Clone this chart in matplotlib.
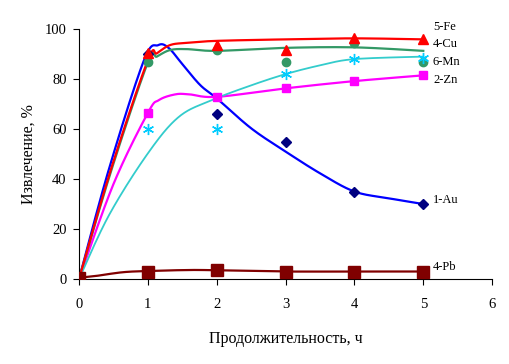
import numpy as np
import matplotlib
matplotlib.use('Agg')
import matplotlib.pyplot as plt

plt.rcParams['font.family'] = ['Liberation Serif', 'DejaVu Serif']

## Данные
t = [0, 1, 2, 3, 4, 5]

# точки (маркеры)
au_pts = [0, 90, 66, 55, 35, 30]
fe_pts = [0, 90.5, 93.5, 91.5, 96.5, 96]
cu_pts = [0, 87, 91.5, 87, 94.5, 87]
mn_pts = [0, 60, 60, 82, 88, 88.5]
zn_pts = [0, 66.5, 72.7, 76.3, 79.2, 81.5]
pb_pts = [0.5, 3, 3.5, 3, 3, 3]

# сглаженные кривые (узлы)
au_cx = [0, 0.43, 0.944, 1.15, 1.3, 1.5, 1.76, 2, 2.5, 3, 3.5, 4, 4.5, 5]
au_cy = [0, 43.6, 87.6, 93.6, 92.5, 86, 77.6, 72.3, 60.3, 51, 42.3, 35, 32.3, 30]
fe_cx = [0, 0.46, 1.0, 1.13, 1.32, 1.56, 2, 3, 4, 5]
fe_cy = [0, 43.6, 87.6, 90.3, 93.6, 94.5, 95.3, 95.9, 96.3, 95.9]
cu_cx = [0, 0.47, 1.0, 1.13, 1.32, 1.56, 2, 3, 4, 5]
cu_cy = [0, 43.6, 86.7, 89, 91.6, 92, 91.3, 92.5, 92.7, 91.3]
mn_cx = [0, 0.436, 1.0, 1.45, 1.93, 2.5, 3, 3.5, 4, 5]
mn_cy = [0, 25.6, 50.3, 64.9, 71.6, 77.5, 82, 85.5, 88, 89]
zn_cx = [0, 0.5, 1.0, 1.16, 1.4, 1.6, 2, 3, 4, 5]
zn_cy = [0, 38, 66.5, 71.6, 73.9, 73.9, 72.9, 76.3, 79.2, 81.5]
pb_cx = [0, 0.24, 0.63, 1, 1.6, 2, 3, 4, 5]
pb_cy = [0.5, 1.2, 2.7, 3.2, 3.6, 3.5, 3, 3, 3]

labels = ['5-Fe', '4-Cu', '6-Mn', '2-Zn', '1-Au', '4-Pb']
label_y = [101, 94, 87, 79.6, 31.6, 4.8]


# сглаживание (Catmull-Rom в пиксельном масштабе)
def smooth(x, y, sx=68.8, sy=2.5, n=30):
    P = np.column_stack([np.asarray(x, float) * sx, np.asarray(y, float) * sy])
    P = np.vstack([P[0], P, P[-1]])
    out = []
    for i in range(1, len(P) - 2):
        p0, p1, p2, p3 = P[i - 1], P[i], P[i + 1], P[i + 2]
        c1 = p1 + (p2 - p0) / 6
        c2 = p2 - (p3 - p1) / 6
        s = np.linspace(0, 1, n)[:, None]
        seg = ((1 - s) ** 3 * p1 + 3 * (1 - s) ** 2 * s * c1
               + 3 * (1 - s) * s ** 2 * c2 + s ** 3 * p2)
        out.append(seg)
    out = np.vstack(out)
    return out[:, 0] / sx, out[:, 1] / sy


fig = plt.figure(figsize=(5.1, 3.64), dpi=100)
ax = fig.add_axes([0.155, 0.2335, 0.81, 0.6865])

series = [
    (au_cx, au_cy, au_pts, '#0000FF', '#000080', 'D', 5.5, 1.6),
    (zn_cx, zn_cy, zn_pts, '#FF00FF', '#FF00FF', 's', 6, 1.6),
    (cu_cx, cu_cy, cu_pts, '#339966', '#339966', 'o', 6, 1.6),
    (mn_cx, mn_cy, mn_pts, '#33CCCC', '#00CCFF', '*', 0, 1.3),
    (fe_cx, fe_cy, fe_pts, '#FF0000', '#FF0000', '^', 7, 1.6),
    (pb_cx, pb_cy, pb_pts, '#800000', '#800000', 's', 8, 1.6),
]

for cx, cy, pts, lc, mc, m, ms, lw in series:
    xs, ys = smooth(cx, cy)
    ax.plot(xs, ys, color=lc, linewidth=lw, zorder=2)
    if m == '*':
        ax.plot(t, pts, linestyle='none', marker=(6, 2, 0), markersize=8,
                markeredgecolor=mc, markeredgewidth=1.0, zorder=3)
    else:
        ax.plot(t, pts, linestyle='none', marker=m, markersize=ms,
                color=mc, zorder=3)

for lab, ly in zip(labels, label_y):
    ax.text(5.14, ly, lab, fontsize=9, va='center', ha='left', clip_on=False)

ax.set_xlim(0, 6)
ax.set_ylim(0, 100)
ax.set_xticks(range(0, 7))
ax.set_yticks(range(0, 101, 20))
ax.tick_params(direction='out', length=4, width=0.8, labelsize=10.5)
ax.tick_params(axis='x', pad=10)
ax.tick_params(axis='y', pad=5)
ax.spines['top'].set_visible(False)
ax.spines['right'].set_visible(False)
ax.set_xlabel('Продолжительность, ч', fontsize=11.5, labelpad=14)
ax.set_ylabel('Извлечение, %', fontsize=11.5, labelpad=6)

plt.savefig('out.png', dpi=100)
